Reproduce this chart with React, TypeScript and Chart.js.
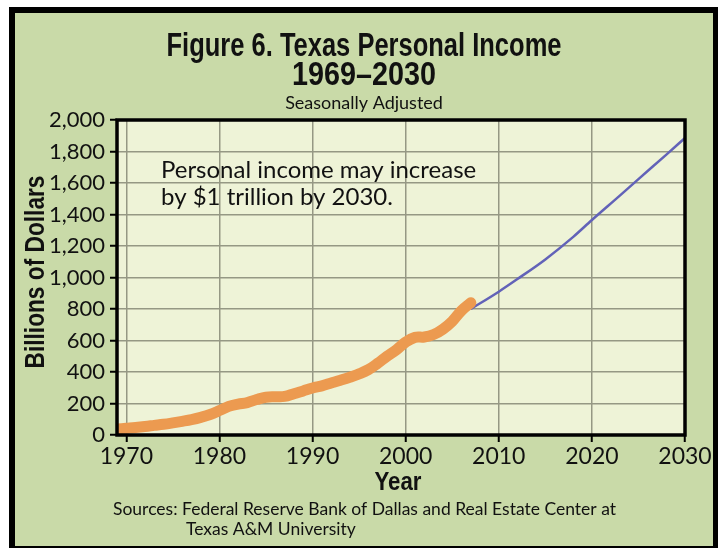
import React, { useEffect, useRef } from "react";
import { Chart, registerables } from "chart.js";

Chart.register(...registerables);

const histYears = [1969, 1970, 1971, 1972, 1973, 1974, 1975, 1976, 1977, 1978, 1979, 1980, 1981, 1982, 1983, 1984, 1985, 1986, 1987, 1988, 1989, 1990, 1991, 1992, 1993, 1994, 1995, 1996, 1997, 1998, 1999, 2000, 2001, 2002, 2003, 2004, 2005, 2006, 2007];
const histValues = [38, 43, 48, 54, 61, 68, 77, 87, 98, 112, 130, 155, 182, 196, 206, 225, 240, 243, 245, 262, 280, 298, 312, 330, 348, 367, 388, 415, 455, 500, 540, 590, 620, 622, 638, 672, 722, 790, 840];
const forecastYears = [2007, 2010, 2012, 2015, 2018, 2020, 2023, 2025, 2028, 2030];
const forecastValues = [800, 910, 990, 1115, 1258, 1365, 1520, 1625, 1780, 1886];
const xTickYears = [1970, 1980, 1990, 2000, 2010, 2020, 2030];

const titleLine1 = "Figure 6. Texas Personal Income";
const titleLine2 = "1969\u20132030";
const subtitle = "Seasonally Adjusted";
const yTitle = "Billions of Dollars";
const xTitle = "Year";
const note1 = "Personal income may increase";
const note2 = "by $1 trillion by 2030.";
const source1 = "Sources: Federal Reserve Bank of Dallas and Real Estate Center at";
const source2 = "Texas A&M University";

const BOLD = '"Liberation Sans", Arial, sans-serif';
const SANS = 'Lato, "Open Sans", sans-serif';

function drawFitted(ctx: any, text: string, cx: number, y: number, targetWidth: number, font: string) {
  ctx.save();
  ctx.font = font;
  ctx.textAlign = "center";
  const w = ctx.measureText(text).width;
  ctx.translate(cx, y);
  ctx.scale(targetWidth / w, 1);
  ctx.fillText(text, 0, 0);
  ctx.restore();
}

const framePlugin = {
  id: "frame",
  beforeDraw(chart: any) {
    const { ctx, width, height, chartArea } = chart;
    ctx.save();
    ctx.fillStyle = "#ffffff";
    ctx.fillRect(0, 0, width, height);
    ctx.fillStyle = "#000000";
    ctx.fillRect(9, 7, width - 9, height - 7);
    ctx.fillStyle = "#c9daa8";
    ctx.fillRect(15, 13, 698, height - 15);
    ctx.fillStyle = "#eef3d7";
    ctx.fillRect(chartArea.left, chartArea.top, chartArea.right - chartArea.left, chartArea.bottom - chartArea.top);
    ctx.restore();
  },
  afterDraw(chart: any) {
    const { ctx, chartArea } = chart;
    ctx.save();
    ctx.strokeStyle = "#000000";
    ctx.lineWidth = 3.5;
    ctx.strokeRect(chartArea.left, chartArea.top, chartArea.right - chartArea.left, chartArea.bottom - chartArea.top);

    ctx.fillStyle = "#111111";
    ctx.textBaseline = "alphabetic";
    drawFitted(ctx, titleLine1, 364, 56, 395, `bold 34px ${BOLD}`);
    drawFitted(ctx, titleLine2, 364, 85, 144, `bold 34px ${BOLD}`);
    ctx.textAlign = "center";
    ctx.font = `18px ${SANS}`;
    ctx.fillText(subtitle, 364, 109);

    drawFitted(ctx, xTitle, 398, 490, 47, `bold 25px ${BOLD}`);

    ctx.save();
    ctx.translate(44, 272);
    ctx.rotate(-Math.PI / 2);
    drawFitted(ctx, yTitle, 0, 0, 193, `bold 27px ${BOLD}`);
    ctx.restore();

    ctx.textAlign = "left";
    ctx.font = `24px ${SANS}`;
    ctx.fillText(note1, 161, 178);
    ctx.fillText(note2, 161, 205);

    ctx.font = `17.5px ${SANS}`;
    ctx.fillText(source1, 113, 515);
    ctx.fillText(source2, 186, 535);
    ctx.restore();
  },
};

export default function App() {
  const ref = useRef<HTMLCanvasElement | null>(null);

  useEffect(() => {
    document.body.style.margin = "0";
    const canvas = ref.current;
    if (!canvas) return;
    const chart = new Chart(canvas, {
      type: "line",
      data: {
        datasets: [
          {
            label: "Historical",
            data: histYears.map((x, i) => ({ x, y: histValues[i] })),
            borderColor: "#ec9a50",
            borderWidth: 11,
            borderCapStyle: "round",
            borderJoinStyle: "round",
            tension: 0.4,
            pointRadius: 0,
            order: 0,
          },
          {
            label: "Forecast",
            data: forecastYears.map((x, i) => ({ x, y: forecastValues[i] })),
            borderColor: "#6262b8",
            borderWidth: 2.5,
            cubicInterpolationMode: "monotone",
            pointRadius: 0,
            order: 1,
          },
        ],
      },
      options: {
        animation: false,
        responsive: false,
        layout: { padding: { left: 47, top: 120, right: 33, bottom: 73 } },
        plugins: { legend: { display: false }, tooltip: { enabled: false }, title: { display: false } },
        scales: {
          x: {
            type: "linear",
            min: 1969,
            max: 2030,
            afterBuildTicks: (scale: any) => {
              scale.ticks = xTickYears.map((v) => ({ value: v }));
            },
            afterFit: (scale: any) => {
              scale.height = 40;
            },
            grid: { color: "#959884", lineWidth: 1.5, tickColor: "#000000", tickLength: 7, tickWidth: 2 },
            border: { display: false },
            ticks: {
              font: { family: SANS, size: 23 },
              color: "#111111",
              padding: 1,
              maxRotation: 0,
              autoSkip: false,
              callback: (v: any) => String(v),
            },
          },
          y: {
            min: 0,
            max: 2000,
            afterFit: (scale: any) => {
              scale.width = 70;
            },
            grid: { color: "#959884", lineWidth: 1.5, tickColor: "#000000", tickLength: 7, tickWidth: 2 },
            border: { display: false },
            ticks: {
              stepSize: 200,
              font: { family: SANS, size: 22 },
              color: "#111111",
              padding: 5,
              callback: (v: any) => Number(v).toLocaleString("en-US"),
            },
          },
        },
      },
      plugins: [framePlugin],
    } as any);
    return () => chart.destroy();
  }, []);

  return (
    <div style={{ position: "absolute", left: 0, top: 0, width: 718, height: 548 }}>
      <canvas ref={ref} width={718} height={548} style={{ display: "block", width: 718, height: 548 }} />
    </div>
  );
}
